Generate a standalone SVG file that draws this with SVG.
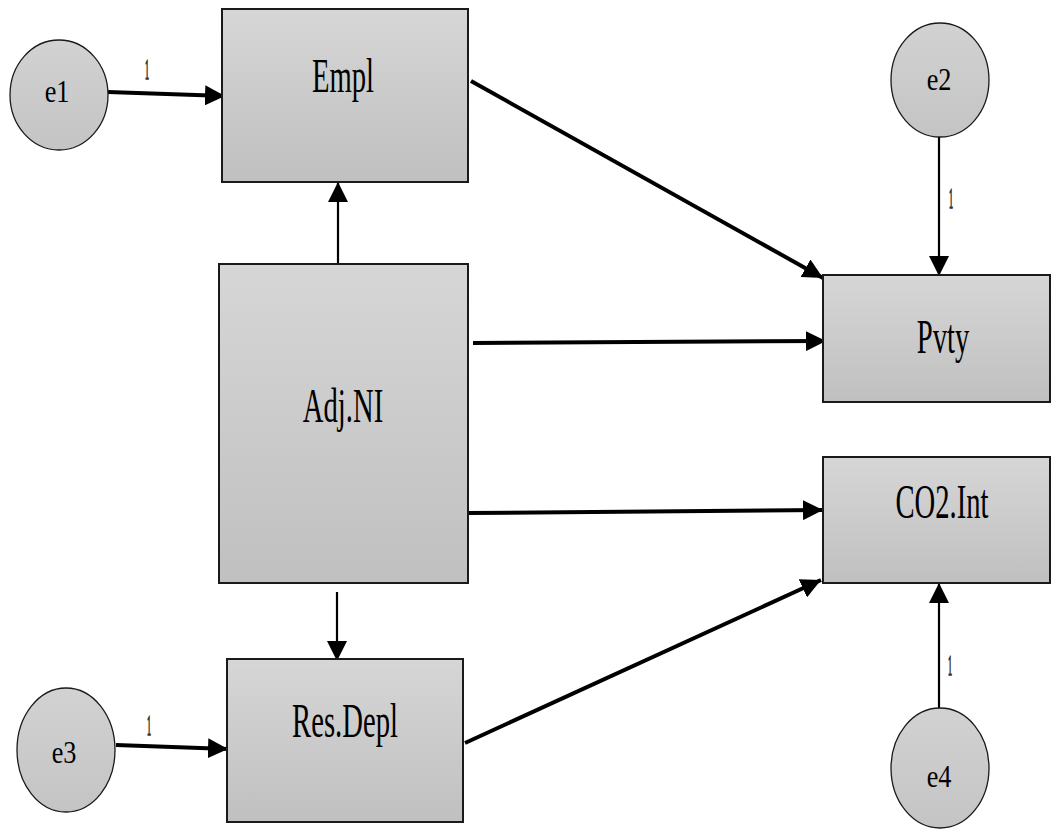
<svg xmlns="http://www.w3.org/2000/svg" width="1052" height="829" viewBox="0 0 1052 829">
<defs>
<linearGradient id="gb" x1="0" y1="0" x2="0" y2="1">
<stop offset="0" stop-color="#d6d6d6"/>
<stop offset="1" stop-color="#c0c0c0"/>
</linearGradient>
<linearGradient id="ge" x1="0" y1="0" x2="0" y2="1">
<stop offset="0" stop-color="#d2d2d2"/>
<stop offset="1" stop-color="#c4c4c4"/>
</linearGradient>
<marker id="ah" markerUnits="userSpaceOnUse" viewBox="0 0 20 20" markerWidth="20" markerHeight="20" refX="20" refY="10" orient="auto">
<path d="M0,0 L20,10 L0,20 Z" fill="#000"/>
</marker>
</defs>
<style>
.box{fill:url(#gb);stroke:#1a1a1a;stroke-width:2}
.ell{fill:url(#ge);stroke:#1a1a1a;stroke-width:1.3}
text{font-family:'Liberation Serif',serif;fill:#000;text-anchor:middle}
.big{font-size:49px}
.sm{font-size:32px}
.lab{font-size:30px;fill:#333;stroke:#333;stroke-width:1.5}
.c{fill:none;stroke:#000}
.thick{stroke-width:4}
.thin{stroke-width:2.2}
</style>
<g id="connectors">
<path class="c thick" d="M108,92 L225,96" marker-end="url(#ah)"/>
<path class="c thin" d="M338,264 L338,182" marker-end="url(#ah)"/>
<path class="c thick" d="M471,81 L823,278" marker-end="url(#ah)"/>
<path class="c thick" d="M473,343 L826,341" marker-end="url(#ah)"/>
<path class="c thin" d="M939,137 L939,276" marker-end="url(#ah)"/>
<path class="c thick" d="M468,513 L823,510" marker-end="url(#ah)"/>
<path class="c thick" d="M465,743 L821,580" marker-end="url(#ah)"/>
<path class="c thin" d="M939,708 L939,583" marker-end="url(#ah)"/>
<path class="c thin" d="M337,592 L337,661" marker-end="url(#ah)"/>
<path class="c thick" d="M116,745 L228,749" marker-end="url(#ah)"/>
<text class="lab" transform="translate(147,79) scale(0.27,1)">1</text>
<text class="lab" transform="translate(951,208) scale(0.27,1)">1</text>
<text class="lab" transform="translate(149,735) scale(0.27,1)">1</text>
<text class="lab" transform="translate(950,675) scale(0.27,1)">1</text>
</g>
<g id="e1">
<ellipse class="ell" cx="59" cy="95" rx="49" ry="55"/>
<text class="sm" transform="translate(57,102) scale(0.82,1)">e1</text>
</g>
<g id="Empl">
<rect class="box" x="222" y="9" width="246" height="173"/>
<text class="big" transform="translate(343,92) scale(0.585,1)">Empl</text>
</g>
<g id="e2">
<ellipse class="ell" cx="940" cy="80" rx="49" ry="57"/>
<text class="sm" transform="translate(939,90) scale(0.82,1)">e2</text>
</g>
<g id="AdjNI">
<rect class="box" x="219" y="264" width="249" height="319"/>
<text class="big" transform="translate(343,422) scale(0.585,1)">Adj.NI</text>
</g>
<g id="Pvty">
<rect class="box" x="823" y="275" width="227" height="127"/>
<text class="big" transform="translate(943,353) scale(0.585,1)">Pvty</text>
</g>
<g id="CO2Int">
<rect class="box" x="823" y="457" width="227" height="126"/>
<text class="big" transform="translate(942,518) scale(0.585,1)">CO2.Int</text>
</g>
<g id="ResDepl">
<rect class="box" x="227" y="659" width="236" height="163"/>
<text class="big" transform="translate(345,737) scale(0.585,1)">Res.Depl</text>
</g>
<g id="e3">
<ellipse class="ell" cx="66" cy="750" rx="49" ry="62"/>
<text class="sm" transform="translate(64,763) scale(0.82,1)">e3</text>
</g>
<g id="e4">
<ellipse class="ell" cx="940" cy="768" rx="49" ry="60"/>
<text class="sm" transform="translate(939,787) scale(0.82,1)">e4</text>
</g>
</svg>
